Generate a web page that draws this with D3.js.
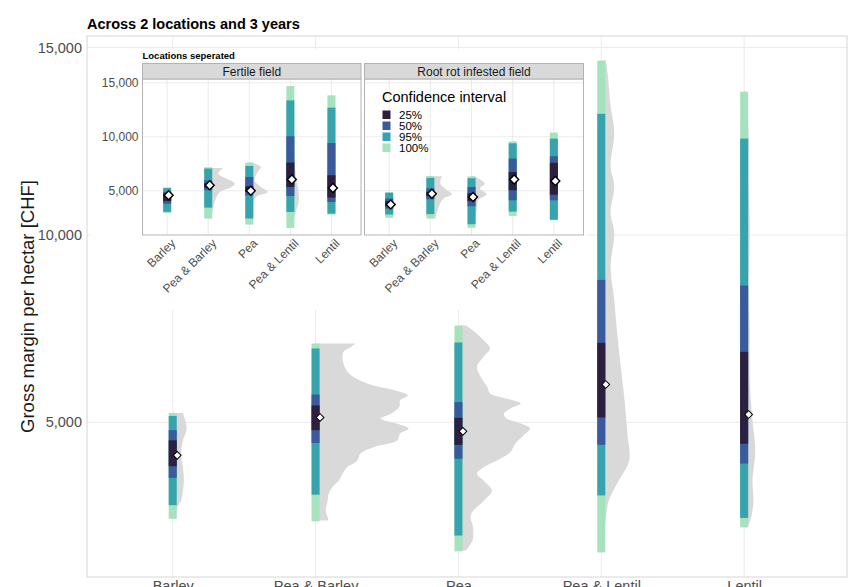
<!DOCTYPE html>
<html>
<head>
<meta charset="utf-8">
<script src="https://cdn.jsdelivr.net/npm/d3@7"></script>
<style>
  body { margin: 0; background: #fff; }
  svg { display: block; font-family: "Liberation Sans", Arial, Helvetica, sans-serif; }
</style>
</head>
<body>
<div id="chart"></div>
<script>
// ---- data ----
const crops = ["Barley", "Pea & Barley", "Pea", "Pea & Lentil", "Lentil"];
const levels = ["25%", "50%", "95%", "100%"];
const levelColors = ["#2d1f3e", "#3a5a9c", "#37a4ad", "#a6e2bd"];
const yTicks = [5000, 10000, 15000];

// across both locations: [low, high] per crop
const allQ100 = [[2430, 5250], [2360, 7100], [1560, 7580], [1530, 14650], [2200, 13820]];
const allQ95 = [[2790, 5170], [3070, 6970], [1980, 7130], [3050, 13230], [2450, 12570]];
const allQ50 = [[3520, 4790], [4450, 5740], [4030, 5540], [4400, 8800], [3900, 8650]];
const allQ25 = [[3830, 4520], [4790, 5450], [4400, 5120], [5130, 7120], [4430, 6880]];
const allMedian = [4120, 5130, 4760, 6010, 5210];
// density profiles: [value, relative density 0-100]
const allDensity = [
  [[2430, 4], [2740, 5], [2910, 9], [3180, 11], [3450, 12], [3800, 11], [4160, 9], [4520, 11], [4830, 15], [5250, 11]],
  [[2380, 14], [2470, 13], [2650, 11], [2910, 13], [3090, 14], [3270, 18], [3450, 25], [3630, 29], [3800, 34], [3980, 45],
   [4160, 48], [4340, 63], [4520, 88], [4700, 91], [4830, 100], [4960, 88], [5100, 70], [5230, 81], [5410, 90], [5590, 91],
   [5720, 99], [5860, 84], [6030, 56], [6300, 36], [6570, 30], [6750, 29], [6880, 30], [7010, 38], [7100, 43]],
  [[1580, 8], [1840, 15], [2110, 16], [2290, 15], [2470, 13], [2650, 16], [2830, 24], [3000, 31], [3180, 36], [3450, 27],
   [3630, 20], [3800, 27], [4030, 45], [4210, 56], [4430, 61], [4650, 70], [4830, 77], [4960, 68], [5100, 52], [5230, 49],
   [5370, 56], [5500, 67], [5630, 52], [5770, 34], [5940, 31], [6210, 24], [6480, 20], [6750, 27], [6970, 34], [7190, 27],
   [7460, 15], [7580, 8]],
  [[1530, 1], [2030, 3], [2470, 5], [2910, 8], [3370, 17], [3980, 30], [4710, 28], [5590, 25], [6480, 21], [7380, 17],
   [8260, 14], [9150, 10], [10050, 14], [10590, 10], [11290, 14], [11830, 10], [12730, 14], [13430, 10], [14280, 7], [14650, 5]],
  [[2200, 4], [2510, 8], [2910, 10], [3450, 9], [4250, 12], [5050, 9], [6120, 6], [7460, 6], [8660, 5], [10130, 6],
   [11470, 5], [12570, 5], [13820, 3]]
];

// fertile field
const fertileQ100 = [[2950, 5300], [2430, 7180], [1870, 7610], [1560, 14700], [2800, 13840]];
const fertileQ95 = [[3050, 5250], [3440, 7060], [2430, 7300], [3040, 13380], [2890, 12700]];
const fertileQ50 = [[3800, 4900], [5050, 5970], [4580, 6280], [4520, 10050], [3960, 9430]];
const fertileQ25 = [[4050, 4750], [5280, 5700], [4890, 5420], [5350, 7610], [4370, 6440]];
const fertileMedian = [4580, 5510, 5000, 6040, 5260];
const fertileDensity = [
  [[2950, 8], [3500, 12], [4000, 15], [4500, 18], [5000, 12], [5300, 8]],
  [[2430, 12], [3500, 19], [4430, 31], [4890, 43], [5350, 86], [5670, 99], [5970, 80], [6590, 37], [7110, 56]],
  [[1870, 6], [3500, 12], [4430, 25], [4890, 68], [5350, 43], [5970, 19], [6740, 31], [7200, 43], [7610, 12]],
  [[1560, 5], [3000, 20], [4000, 31], [5000, 30], [6000, 22], [8000, 15], [10000, 10], [12000, 8], [14700, 5]],
  [[2800, 8], [4000, 12], [5000, 11], [7000, 9], [10000, 7], [13840, 5]]
];

// root rot infested field
const rootQ100 = [[2500, 4860], [2430, 6370], [1570, 6340], [2670, 9580], [2270, 10390]];
const rootQ95 = [[2800, 4820], [2840, 6190], [1900, 6160], [3070, 9400], [2320, 9830]];
const rootQ50 = [[3350, 4280], [4210, 5230], [3570, 5350], [4120, 7980], [4120, 8200]];
const rootQ25 = [[3590, 4030], [4490, 4910], [4030, 4770], [5050, 6740], [4630, 7590]];
const rootMedian = [3720, 4720, 4430, 6040, 5910];
const rootDensity = [
  [[2500, 8], [3200, 14], [3800, 16], [4400, 12], [4860, 8]],
  [[2430, 19], [3500, 31], [4280, 49], [4680, 80], [5050, 62], [5670, 37], [6340, 43]],
  [[1650, 12], [3190, 19], [4120, 25], [4680, 56], [5200, 31], [5670, 49], [6340, 12]],
  [[2670, 8], [4000, 14], [5500, 16], [7000, 13], [8500, 10], [9580, 6]],
  [[2270, 6], [4000, 10], [6000, 11], [8000, 9], [10390, 5]]
];

// ---- layout ----
const W = 848, H = 587;
const font = "'Liberation Sans', Arial, Helvetica, sans-serif";
const grey = "#4d4d4d";

const svg = d3.select("#chart").append("svg")
  .attr("width", W).attr("height", H);

function expandedDomain(q100) {
  const lo = d3.min(q100, d => d[0]), hi = d3.max(q100, d => d[1]);
  const pad = (hi - lo) * 0.05;
  return [lo - pad, hi + pad];
}

function pointScale(left, right) {
  const step = (right - left) / 5.32;
  return d3.scalePoint().domain(crops).range([left + 0.6 * step, right - 0.72 * step]);
}

function drawPanel(g, box, x, y, set, o) {
  // grid
  g.append("g").selectAll("line").data(yTicks).join("line")
    .attr("x1", box.left).attr("x2", box.right)
    .attr("y1", d => y(d)).attr("y2", d => y(d))
    .attr("stroke", "#ebebeb").attr("stroke-width", 1);
  g.append("g").selectAll("line").data(crops).join("line")
    .attr("x1", d => x(d)).attr("x2", d => x(d))
    .attr("y1", box.top).attr("y2", box.bottom)
    .attr("stroke", "#ebebeb").attr("stroke-width", 1);

  const dw = d3.scaleLinear().domain([0, 100]).range([0, o.densMax]);
  const qs = [set.q25, set.q50, set.q95, set.q100];

  crops.forEach((c, i) => {
    const cx = x(c);
    const area = d3.area()
      .curve(d3.curveCatmullRom)
      .y(d => y(d[0]))
      .x0(cx)
      .x1(d => cx + dw(d[1]));
    g.append("path").datum(set.dens[i])
      .attr("d", area)
      .attr("fill", "#d9d9d9");

    // widest interval first
    for (let k = qs.length - 1; k >= 0; k--) {
      const q = qs[k][i];
      g.append("rect")
        .attr("x", cx - o.barW / 2)
        .attr("width", o.barW)
        .attr("y", y(q[1]))
        .attr("height", y(q[0]) - y(q[1]))
        .attr("fill", levelColors[k]);
    }

    g.append("path")
      .attr("d", d3.symbol(d3.symbolSquare, o.diamond)())
      .attr("transform", `translate(${cx + o.dOff},${y(set.med[i])}) rotate(45)`)
      .attr("fill", "#fff")
      .attr("stroke", "#000")
      .attr("stroke-width", o.dStroke);
  });

  g.append("rect")
    .attr("x", box.left).attr("y", box.top)
    .attr("width", box.right - box.left).attr("height", box.bottom - box.top)
    .attr("fill", "none").attr("stroke", o.border).attr("stroke-width", 1);
}

// ---- main panel ----
const main = {left: 87, right: 847, top: 36, bottom: 577};
const xMain = pointScale(main.left, main.right);
const yMain = d3.scaleLinear().domain(expandedDomain(allQ100)).range([main.bottom, main.top]);

const gMain = svg.append("g");
drawPanel(gMain, main, xMain, yMain,
  {q25: allQ25, q50: allQ50, q95: allQ95, q100: allQ100, med: allMedian, dens: allDensity},
  {densMax: 93, barW: 8, diamond: 30, dOff: 4.5, dStroke: 1, border: "#d6d6d6"});

svg.append("g")
  .attr("transform", `translate(${main.left},0)`)
  .call(d3.axisLeft(yMain).tickValues(yTicks).tickFormat(d3.format(",")).tickSize(0).tickPadding(5))
  .call(g => g.select(".domain").remove())
  .call(g => g.selectAll("text").attr("fill", grey).attr("font-size", 14.5).attr("font-family", font));

svg.append("g")
  .attr("transform", `translate(0,${main.bottom})`)
  .call(d3.axisBottom(xMain).tickSize(0).tickPadding(4))
  .call(g => g.select(".domain").remove())
  .call(g => g.selectAll("text").attr("fill", grey).attr("font-size", 14.5).attr("font-family", font));

svg.append("text")
  .attr("x", main.left).attr("y", 29)
  .attr("font-weight", "bold").attr("font-size", 14.5)
  .attr("fill", "#000")
  .text("Across 2 locations and 3 years");

svg.append("text")
  .attr("transform", `translate(34,${(main.top + main.bottom) / 2}) rotate(-90)`)
  .attr("text-anchor", "middle")
  .attr("font-size", 18.5).attr("fill", "#1a1a1a")
  .text("Gross margin per hectar [CHF]");

// ---- inset ----
svg.append("rect")
  .attr("x", 90).attr("y", 49).attr("width", 497).attr("height", 261)
  .attr("fill", "#fff");

svg.append("text")
  .attr("x", 142.5).attr("y", 58.5)
  .attr("font-weight", "bold").attr("font-size", 9.5)
  .text("Locations seperated");

const inset = {top: 79, bottom: 235, stripTop: 63.5};
const panels = [
  {name: "Fertile field", left: 142.5, right: 361,
   set: {q25: fertileQ25, q50: fertileQ50, q95: fertileQ95, q100: fertileQ100, med: fertileMedian, dens: fertileDensity}},
  {name: "Root rot infested field", left: 364.5, right: 583.5,
   set: {q25: rootQ25, q50: rootQ50, q95: rootQ95, q100: rootQ100, med: rootMedian, dens: rootDensity}}
];
const yInset = d3.scaleLinear()
  .domain(expandedDomain(fertileQ100.concat(rootQ100)))
  .range([inset.bottom, inset.top]);

panels.forEach(p => {
  const box = {left: p.left, right: p.right, top: inset.top, bottom: inset.bottom};
  const x = pointScale(p.left, p.right);
  const g = svg.append("g");
  drawPanel(g, box, x, yInset, p.set,
    {densMax: 27, barW: 8, diamond: 40, dOff: 1.5, dStroke: 1.4, border: "#b3b3b3"});

  svg.append("rect")
    .attr("x", p.left).attr("y", inset.stripTop)
    .attr("width", p.right - p.left).attr("height", inset.top - inset.stripTop)
    .attr("fill", "#d9d9d9").attr("stroke", "#b3b3b3").attr("stroke-width", 1);
  svg.append("text")
    .attr("x", (p.left + p.right) / 2).attr("y", (inset.stripTop + inset.top) / 2)
    .attr("dy", "0.36em")
    .attr("text-anchor", "middle").attr("font-size", 12).attr("fill", "#1a1a1a")
    .text(p.name);

  svg.append("g").selectAll("text").data(crops).join("text")
    .attr("transform", d => `translate(${x(d) + 3},${inset.bottom + 3}) rotate(-45)`)
    .attr("text-anchor", "end").attr("dy", "0.71em")
    .attr("font-size", 12).attr("fill", grey)
    .text(d => d);
});

svg.append("g")
  .attr("transform", `translate(${panels[0].left},0)`)
  .call(d3.axisLeft(yInset).tickValues(yTicks).tickFormat(d3.format(",")).tickSize(0).tickPadding(4))
  .call(g => g.select(".domain").remove())
  .call(g => g.selectAll("text").attr("fill", grey).attr("font-size", 12).attr("font-family", font));

// legend
const leg = svg.append("g").attr("transform", "translate(382,0)");
leg.append("text").attr("x", 0).attr("y", 101.5)
  .attr("font-size", 14.5).attr("fill", "#000")
  .text("Confidence interval");
levels.forEach((l, i) => {
  leg.append("rect")
    .attr("x", 0.5).attr("y", 110.5 + i * 11)
    .attr("width", 8).attr("height", 8.5)
    .attr("fill", levelColors[i]);
  leg.append("text")
    .attr("x", 17).attr("y", 114.75 + i * 11)
    .attr("dy", "0.36em")
    .attr("font-size", 11.5).attr("fill", "#000")
    .text(l);
});
</script>
</body>
</html>
